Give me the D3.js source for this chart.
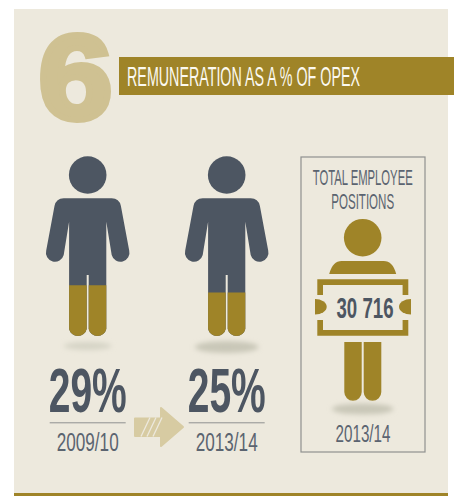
<!DOCTYPE html>
<html>
<head>
<meta charset="utf-8">
<script src="https://cdn.jsdelivr.net/npm/d3@7"></script>
<style>
  html, body { margin: 0; background: #fff; }
  text { font-family: "Liberation Sans Narrow", "Liberation Sans", sans-serif; }
</style>
</head>
<body>
<svg id="chart" width="454" height="496"></svg>
<script>
const titleNumber = "6";
const titleText = "REMUNERATION AS A % OF OPEX";
const years = ["2009/10", "2013/14"];
const percents = [29, 25];
const boxTitle = ["TOTAL EMPLOYEE", "POSITIONS"];
const totalLabel = "30 716";
const totalYear = "2013/14";

const GOLD = "#9f8428",
  SLATE = "#4d5662",
  PANEL = "#ede9dd";

const svg = d3.select("#chart");
const defs = svg.append("defs");
defs.append("filter").attr("id", "soft").attr("x", "-30%").attr("y", "-100%")
  .attr("width", "160%").attr("height", "300%")
  .append("feGaussianBlur").attr("stdDeviation", 2.5);

// squeeze a centred label to the width it has in the picture
function fit(sel, cx, y, width) {
  sel.attr("text-anchor", "middle").each(function () {
    const k = width / this.getComputedTextLength();
    d3.select(this).attr("transform", `translate(${cx},${y}) scale(${k},1)`);
  });
  return sel;
}

svg.append("rect").attr("x", 14).attr("y", 9).attr("width", 434).attr("height", 487).attr("fill", PANEL);
svg.append("rect").attr("x", 14).attr("y", 493).attr("width", 434).attr("height", 3).attr("fill", GOLD);

// header
svg.append("text").attr("font-size", 120).attr("font-weight", 700).attr("fill", "#cfc192")
  .attr("stroke", "#cfc192").attr("stroke-width", 6)
  .style("font-family", "'Liberation Sans', sans-serif")
  .text(titleNumber)
  .call(fit, 75.5, 118.5, 74);
svg.append("rect").attr("x", 119).attr("y", 57).attr("width", 335).attr("height", 38).attr("fill", GOLD);
svg.append("text").attr("font-size", 28.5).attr("fill", "#fbf9f0")
  .text(titleText)
  .call(fit, 243.5, 86, 233);

// person pictogram, height runs along the percent scale
const personY = d3.scaleLinear().domain([0, 100]).range([338, 156]);
const personX = d3.scalePoint().domain(years).range([87.7, 226.7]);

const personPath =
  "M-24,198.3H24Q31.5,198.3 33.2,206L41.5,250.5A9,9 0 0 1 24,255L18.6,221.7V329" +
  "A9,9 0 0 1 1,329V275H-1V329A9,9 0 0 1 -18.6,329V221.7L-24,255A9,9 0 0 1 -41.5,250.5" +
  "L-33.2,206Q-31.5,198.3 -24,198.3Z";

const shadows = [[24, 4], [32, 6]];

const people = svg.selectAll(".person").data(years).enter().append("g")
  .attr("class", "person")
  .attr("transform", (d) => `translate(${personX(d)},0)`);

people.append("ellipse").attr("cy", (d, i) => (i === 0 ? 346 : 347))
  .attr("rx", (d, i) => shadows[i][0]).attr("ry", (d, i) => shadows[i][1])
  .attr("fill", (d, i) => (i === 0 ? "#d6d4c6" : "#c9c7b8")).attr("filter", "url(#soft)");
people.append("circle").attr("cy", 175).attr("r", 18.8).attr("fill", SLATE);
people.append("path").attr("d", personPath).attr("fill", SLATE);

people.append("clipPath").attr("id", (d, i) => "fill-" + i)
  .append("rect").attr("x", -50).attr("width", 100)
  .attr("y", (d, i) => personY(percents[i]))
  .attr("height", (d, i) => personY(0) - personY(percents[i]));
people.append("path").attr("d", personPath).attr("fill", GOLD)
  .attr("clip-path", (d, i) => `url(#fill-${i})`);

people.append("line").attr("x1", -38).attr("x2", 38).attr("y1", 422.8).attr("y2", 422.8)
  .attr("stroke", "#8f9190").attr("stroke-width", 1);

const bottomLabels = svg.append("g");
years.forEach((year, i) => {
  bottomLabels.append("text").attr("font-size", 63).attr("font-weight", 700).attr("fill", SLATE)
    .text(percents[i] + "%")
    .call(fit, personX(year), 411.7, 78);
  bottomLabels.append("text").attr("font-size", 26).attr("fill", "#5b6470")
    .text(year)
    .call(fit, personX(year), 451, 62);
});

// arrow between the two years
const arrow = svg.append("g").attr("transform", "translate(134,427)");
arrow.append("path").attr("fill", "#d7cba2").attr("stroke", "#d7cba2").attr("stroke-width", 2).attr("stroke-linejoin", "round")
  .attr("d", "M1,-8.5H27V-19L49,0L27,19V9H1Z");
arrow.selectAll("line").data(d3.range(3)).enter().append("line")
  .attr("x1", (d) => 7 + d * 6).attr("x2", (d) => 16 + d * 6)
  .attr("y1", 9.5).attr("y2", -9.5)
  .attr("stroke", PANEL).attr("stroke-width", 1.3);

// total employee box
svg.append("rect").attr("x", 301).attr("y", 157).attr("width", 124).attr("height", 295)
  .attr("fill", "none").attr("stroke", "#8f918f").attr("stroke-width", 1.2);
boxTitle.forEach((line, i) => {
  svg.append("text").attr("font-size", 22.5).attr("fill", "#5b6470")
    .text(line)
    .call(fit, 362.7, 185 + i * 24, i === 0 ? 100 : 63);
});

const holder = svg.append("g").attr("transform", "translate(362.7,0)").attr("fill", GOLD);
holder.append("circle").attr("cy", 237.7).attr("r", 18.8);
holder.append("path").attr("d", "M-33.5,274Q-30,261 -21,261H21Q30,261 33.5,274Z");
holder.append("path")
  .attr("d", "M-45.4,279.3H45.6V295H39.9V285H-39.7V295H-45.4Z");
holder.append("path").attr("d", "M-45.4,320H-39.7V330H39.9V320H45.6V335.7H-45.4Z");
holder.append("path").attr("d", "M-47.7,299A11.7,7.75 0 0 1 -47.7,314.5Z");
holder.append("path").attr("d", "M48.3,299A12,7.75 0 0 0 48.3,314.5Z");
holder.append("path").attr("d", "M-18.4,342H-1V392A8.7,8.7 0 0 1 -18.4,392Z M1,342H18.6V392A8.8,8.8 0 0 1 1,392Z");

svg.append("ellipse").attr("cx", 362.7).attr("cy", 409).attr("rx", 31).attr("ry", 5.5)
  .attr("fill", "#c9c7b8").attr("filter", "url(#soft)");
svg.append("text").attr("font-size", 30).attr("font-weight", 700).attr("fill", SLATE)
  .text(totalLabel)
  .call(fit, 365, 318, 57);
svg.append("text").attr("font-size", 24).attr("fill", "#5b6470")
  .text(totalYear)
  .call(fit, 363, 442, 55);
</script>
</body>
</html>
